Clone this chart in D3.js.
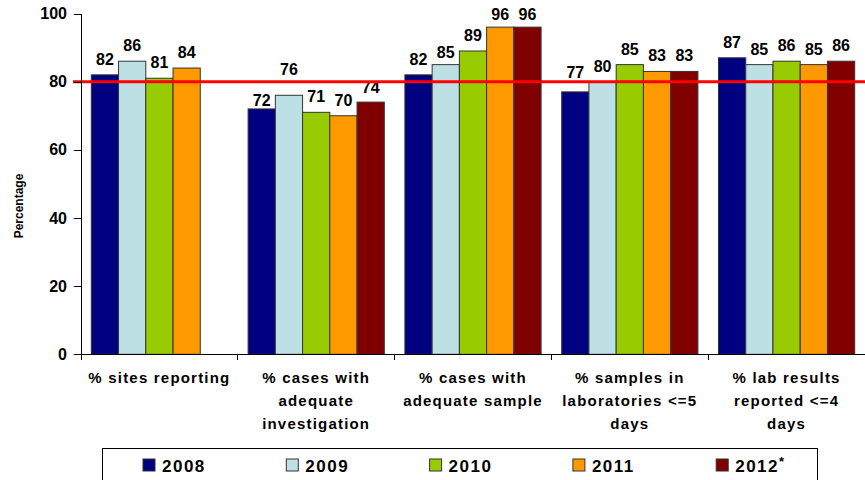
<!DOCTYPE html>
<meta charset="utf-8">
<style>

body { margin: 0; background: #fff; }
text { font-family: "Liberation Sans", Arial, sans-serif; font-weight: bold; fill: #000; }
.axis path, .axis line { stroke: #000; stroke-width: 1px; shape-rendering: crispEdges; }
.axis text { font-size: 16px; }
.cat { font-size: 15px; letter-spacing: 1.2px; }
.val { font-size: 16px; }

</style>
<body>

<script src="https://cdnjs.cloudflare.com/ajax/libs/d3/7.8.5/d3.min.js"></script>
<script>

// data
var categories = [
  ["% sites reporting"],
  ["% cases with", "adequate", "investigation"],
  ["% cases with", "adequate sample"],
  ["% samples in", "laboratories <=5", "days"],
  ["% lab results", "reported <=4", "days"]
];
var years = ["2008", "2009", "2010", "2011", "2012"];
var v2008 = [82, 72, 82, 77, 87];
var v2009 = [86, 76, 85, 80, 85];
var v2010 = [81, 71, 89, 85, 86];
var v2011 = [84, 70, 96, 83, 85];
var v2012 = [null, 74, 96, 83, 86];
var target = 80;
var yTicks = [0, 20, 40, 60, 80, 100];

var colors = ["#000080", "#bde0e4", "#99cc00", "#ff9900", "#800000"];

// a few labels were moved by hand in the original (group index, year index, px)
var nudges = [[1, 0, 7], [1, 1, -10], [1, 4, 1], [3, 0, -4], [2, 1, 3], [2, 3, 3], [2, 4, 3]];

var series = [v2008, v2009, v2010, v2011, v2012];

var W = 865, H = 480;
var plotLeft = 81, plotRight = 865, plotTop = 13.5, plotBottom = 354.3;

var svg = d3.select("body").append("svg")
    .attr("width", W)
    .attr("height", H);

var x0 = d3.scaleBand()
    .domain(d3.range(categories.length))
    .range([plotLeft, plotRight])
    .padding(0);

var x1 = d3.scaleBand()
    .domain(years)
    .range([10.3, x0.bandwidth() - 10.3])
    .padding(0);

var y = d3.scaleLinear().domain([0, 100]).range([plotBottom, plotTop]);

// build one record per bar
var bars = [];
categories.forEach(function(c, i) {
  years.forEach(function(yr, j) {
    var v = series[j][i];
    if (v == null) return;
    var dy = 0;
    nudges.forEach(function(n) { if (n[0] === i && n[1] === j) dy = n[2]; });
    bars.push({cat: i, year: yr, j: j, value: v, dy: dy});
  });
});

// bars
svg.append("g").selectAll("rect")
    .data(bars)
  .enter().append("rect")
    .attr("x", function(d) { return x0(d.cat) + x1(d.year); })
    .attr("y", function(d) { return y(d.value); })
    .attr("width", x1.bandwidth())
    .attr("height", function(d) { return y(0) - y(d.value); })
    .attr("fill", function(d) { return colors[d.j]; })
    .attr("stroke", "#333")
    .attr("stroke-width", 1);

// value labels
svg.append("g").selectAll("text")
    .data(bars)
  .enter().append("text")
    .attr("class", "val")
    .attr("x", function(d) { return x0(d.cat) + x1(d.year) + x1.bandwidth() / 2; })
    .attr("y", function(d) { return y(d.value) - 10 + d.dy; })
    .attr("text-anchor", "middle")
    .text(function(d) { return d.value; });

// target line
svg.append("line")
    .attr("x1", 73)
    .attr("x2", W)
    .attr("y1", y(target))
    .attr("y2", y(target))
    .attr("stroke", "#ff0000")
    .attr("stroke-width", 3);

// y axis
svg.append("g")
    .attr("class", "axis")
    .attr("transform", "translate(" + plotLeft + ",0)")
    .call(d3.axisLeft(y).tickValues(yTicks).tickSize(7).tickPadding(7).tickSizeOuter(0));

// x axis: line plus ticks between groups
var xa = svg.append("g").attr("class", "axis");
xa.append("line")
    .attr("x1", plotLeft).attr("x2", plotRight)
    .attr("y1", y(0)).attr("y2", y(0));
xa.selectAll(".tk")
    .data(d3.range(categories.length + 1))
  .enter().append("line")
    .attr("x1", function(d) { return plotLeft + d * x0.bandwidth(); })
    .attr("x2", function(d) { return plotLeft + d * x0.bandwidth(); })
    .attr("y1", y(0))
    .attr("y2", y(0) + 6);

// category labels
var cat = svg.append("g").selectAll("text")
    .data(categories)
  .enter().append("text")
    .attr("class", "cat")
    .attr("text-anchor", "middle")
    .attr("x", function(d, i) { return x0(i) + x0.bandwidth() / 2; })
    .attr("y", 383);
cat.selectAll("tspan")
    .data(function(d) { return d; })
  .enter().append("tspan")
    .attr("x", function() { return this.parentNode.getAttribute("x"); })
    .attr("dy", function(d, i) { return i ? 23 : 0; })
    .text(function(d) { return d; });

// y axis title
svg.append("text")
    .attr("transform", "translate(23,206) rotate(-90)")
    .attr("text-anchor", "middle")
    .style("font-size", "12px")
    .text("Percentage");

// legend
svg.append("rect")
    .attr("x", 102.5).attr("y", 448.5)
    .attr("width", 715).attr("height", 40)
    .attr("fill", "none")
    .attr("stroke", "#000");

var lg = svg.append("g").selectAll("g")
    .data(years)
  .enter().append("g")
    .attr("transform", function(d, i) { return "translate(" + (143 + i * 143.3) + ",459)"; });
lg.append("rect")
    .attr("width", 12).attr("height", 12)
    .attr("fill", function(d, i) { return colors[i]; })
    .attr("stroke", "#333");
var lt = lg.append("text")
    .attr("x", 19)
    .attr("y", 12.5)
    .style("font-size", "17px")
    .style("letter-spacing", "1.5px")
    .text(function(d) { return d; });
lt.filter(function(d) { return d === "2012"; })
  .append("tspan")
    .attr("dy", -6)
    .style("font-size", "13px")
    .text("*");

</script>
</body>
